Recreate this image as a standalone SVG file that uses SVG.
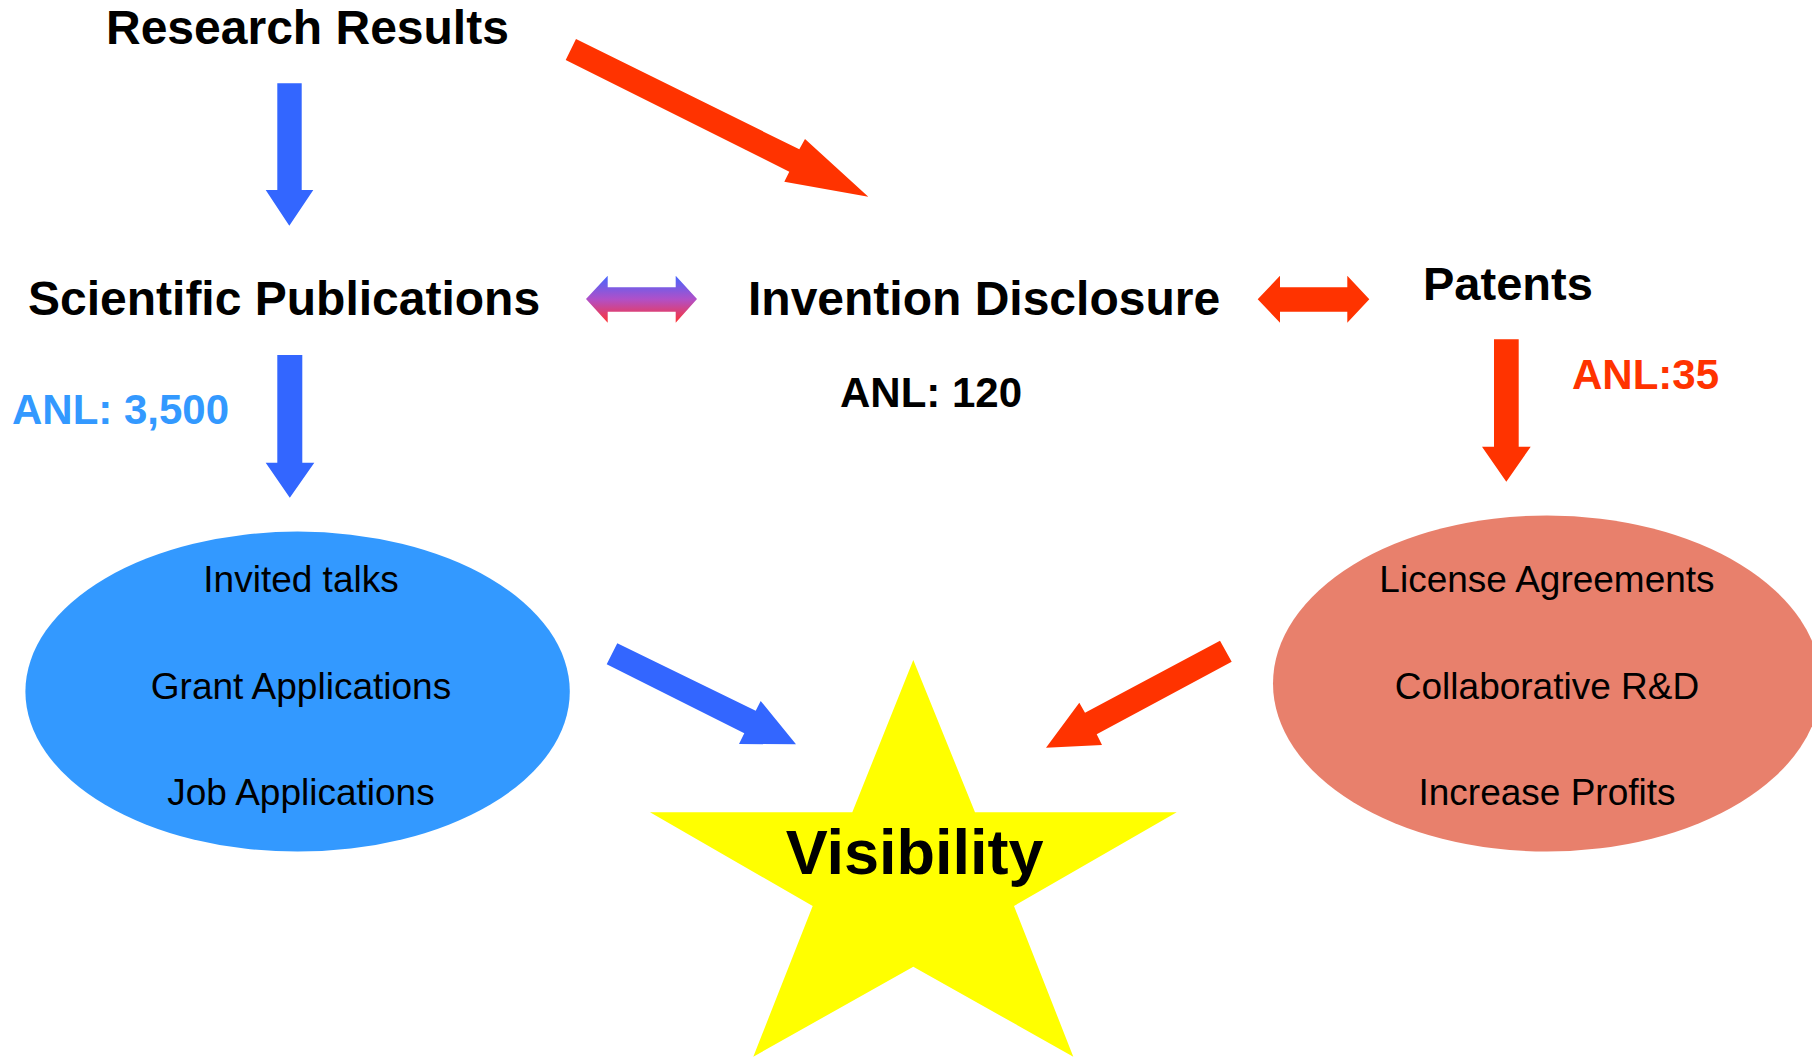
<svg xmlns="http://www.w3.org/2000/svg" width="1812" height="1057" viewBox="0 0 1812 1057">
<defs>
<style>
.h{font-family:"Liberation Sans",Arial,sans-serif;font-weight:bold;font-size:48px;fill:#000}
.n{font-family:"Liberation Sans",Arial,sans-serif;font-weight:bold;font-size:42px}
.e{font-family:"Liberation Sans",Arial,sans-serif;font-size:37px;fill:#000;text-anchor:middle}
.blue{fill:#3366ff}
.red{fill:#ff3300}
</style>
<linearGradient id="g" x1="0" y1="0" x2="0" y2="1">
<stop offset="0" stop-color="#4466ff"/>
<stop offset="0.5" stop-color="#b050c8"/>
<stop offset="1" stop-color="#ff3333"/>
</linearGradient>
</defs>
<rect width="1812" height="1057" fill="#fff"/>
<g id="research-results"><text class="h" x="106" y="44">Research Results</text></g>
<g id="scientific-publications"><text class="h" x="28" y="315">Scientific Publications</text>
<text class="n" x="12" y="424" fill="#3399ff">ANL: 3,500</text></g>
<g id="invention-disclosure"><text class="h" x="748" y="315">Invention Disclosure</text>
<text class="n" x="840" y="407" fill="#000">ANL: 120</text></g>
<g id="patents"><text class="h" x="1423" y="300" style="font-size:47px">Patents</text>
<text class="n" x="1572" y="389" fill="#ff3300">ANL:35</text></g>
<g id="outreach"><ellipse cx="297.6" cy="691.6" rx="272.2" ry="160" fill="#3399ff"/>
<text class="e" x="301" y="592">Invited talks</text>
<text class="e" x="301" y="699">Grant Applications</text>
<text class="e" x="301" y="805">Job Applications</text></g>
<g id="commercial"><ellipse cx="1547" cy="683.5" rx="274" ry="168" fill="#e8806c"/>
<text class="e" x="1547" y="592">License Agreements</text>
<text class="e" x="1547" y="699">Collaborative R&amp;D</text>
<text class="e" x="1547" y="805">Increase Profits</text></g>
<g id="visibility"><polygon points="913.3,660 975,812.3 1176.7,812.3 1014,906 1073.3,1056.7 913.3,966.7 753.3,1056.7 812.7,906 650,812.3 852.3,812.3" fill="#ffff00"/>
<text x="914.6" y="874" style="font-family:'Liberation Sans',Arial,sans-serif;font-weight:bold;font-size:63px;text-anchor:middle">Visibility</text></g>
<g id="connectors">
<polygon class="blue" points="277.3,83.3 301.7,83.3 301.7,190 313.3,190 289.3,225.7 265.7,190 277.3,190"/>
<polygon class="blue" points="277.3,355 302.3,355 302.3,462.7 314.3,462.7 289.8,497.7 265.7,462.7 277.3,462.7"/>
<polygon class="red" points="576,39 799.3,149.3 805,139 868.3,196.7 784.3,181.7 789.3,171.7 565.7,60"/>
<polygon fill="url(#g)" points="586,299 607.7,275.7 607.7,287.3 675.7,287.3 675.7,275.7 697,299 675.7,322.7 675.7,311.7 607.7,311.7 607.7,322.7"/>
<polygon class="red" points="1257.7,299.3 1280,275.7 1280,287.3 1347.3,287.3 1347.3,275.7 1369.3,299.3 1347.3,322.7 1347.3,311.7 1280,311.7 1280,322.7"/>
<polygon class="red" points="1494,339.3 1518.7,339.3 1518.7,446.7 1530.7,446.7 1506.3,481.7 1482,446.7 1494,446.7"/>
<polygon class="blue" points="617.3,643.3 755.7,710.7 760.7,701 796,744.3 739,744 744.3,733.3 606.7,664.3"/>
<polygon class="red" points="1220,640.7 1231.7,661.7 1096.7,734.3 1102,745 1046,747.7 1079.3,702.7 1085,712.7"/>
</g>
</svg>
